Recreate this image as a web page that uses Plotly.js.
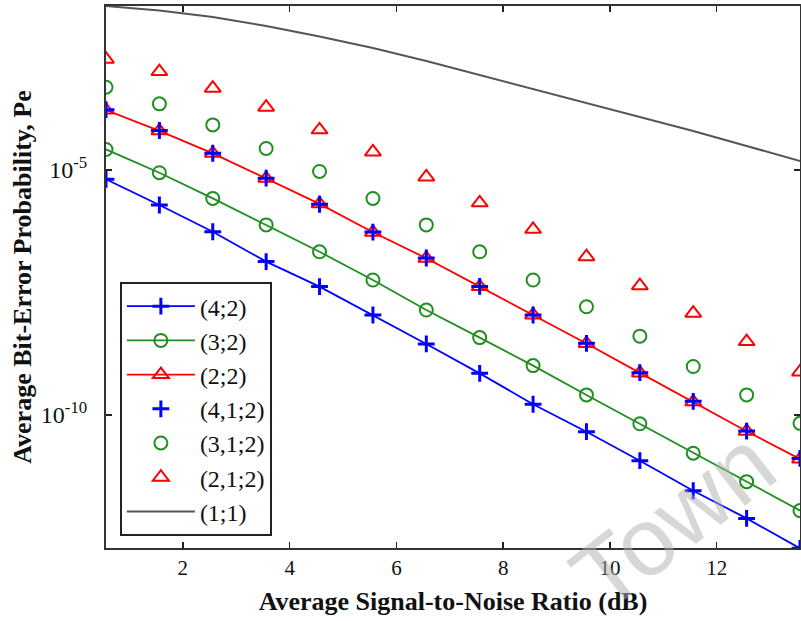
<!DOCTYPE html>
<html>
<head>
<meta charset="utf-8">
<script src="https://cdn.plot.ly/plotly-3.0.1.min.js"></script>
<style>html,body{margin:0;padding:0;background:#fff;}#chart{width:801px;height:621px;}</style>
</head>
<body>
<div id="chart"></div>
<script>
// SNR values (dB)
const snr = [0.56, 1.56, 2.56, 3.56, 4.56, 5.56, 6.56, 7.56, 8.56, 9.56, 10.56, 11.56, 12.56, 13.56];

// Average bit-error probability per configuration
const pe_4_2 = [6.46e-6, 1.93e-6, 5.5e-7, 1.35e-7, 4.17e-8, 1.10e-8, 2.82e-9, 7.08e-10, 1.66e-10, 4.57e-11, 1.17e-11, 2.85e-12, 7.76e-13, 1.9e-13];
const pe_3_2 = [2.63e-5, 8.81e-6, 2.63e-6, 7.59e-7, 2.14e-7, 5.69e-8, 1.39e-8, 3.8e-9, 1.02e-9, 2.57e-10, 6.61e-11, 1.66e-11, 4.37e-12, 1.12e-12];
const pe_2_2 = [1.67e-4, 6.31e-5, 2.19e-5, 6.76e-6, 2.04e-6, 5.37e-7, 1.58e-7, 4.17e-8, 1.1e-8, 2.88e-9, 7.24e-10, 1.86e-10, 4.68e-11, 1.26e-11];
const pe_4_1_2 = [1.7e-4, 6.4e-5, 2.2e-5, 6.8e-6, 2.0e-6, 5.4e-7, 1.6e-7, 4.2e-8, 1.1e-8, 2.9e-9, 7.3e-10, 1.9e-10, 4.7e-11, 1.3e-11];
const pe_3_1_2 = [4.9e-4, 2.24e-4, 8.32e-5, 2.75e-5, 9.33e-6, 2.63e-6, 7.59e-7, 2.14e-7, 5.69e-8, 1.62e-8, 4.07e-9, 9.77e-10, 2.57e-10, 6.76e-11];
const pe_2_1_2 = [1.82e-3, 1.02e-3, 4.68e-4, 1.91e-4, 6.61e-5, 2.34e-5, 7.24e-6, 2.14e-6, 6.17e-7, 1.7e-7, 4.37e-8, 1.2e-8, 3.16e-9, 7.59e-10];
const pe_1_1 = [2.22e-2, 1.8e-2, 1.32e-2, 8.69e-3, 5.3e-3, 3.09e-3, 1.67e-3, 8.69e-4, 4.5e-4, 2.33e-4, 1.21e-4, 6.25e-5, 3.09e-5, 1.53e-5];

const seriesNames = ['(4;2)', '(3;2)', '(2;2)', '(4,1;2)', '(3,1;2)', '(2,1;2)', '(1;1)'];

const xTickVals = [2, 4, 6, 8, 10, 12];
const yTickVals = [1e-5, 1e-10];
const yTickText = ['10<sup>-5</sup>', '10<sup>-10</sup>'];

const BLUE = '#0000ff', GREEN = '#1f8f1f', RED = '#ff0000', GRAY = '#555555';

function tr(name, y, mode, color, symbol, size, group, lw) {
  const t = {
    x: snr, y: y, name: name, mode: mode, type: 'scatter',
    legendgroup: group,
    marker: {symbol: symbol, size: size, color: color, line: {color: color, width: lw}}
  };
  if (mode.indexOf('lines') >= 0) t.line = {color: color, width: 1.8};
  return t;
}

const data = [
  tr(seriesNames[0], pe_4_2, 'lines+markers', BLUE, 'cross-thin', 12, 'a', 3),
  tr(seriesNames[1], pe_3_2, 'lines+markers', GREEN, 'circle-open', 13, 'b', 2),
  tr(seriesNames[2], pe_2_2, 'lines+markers', RED, 'triangle-up-open', 14, 'c', 2),
  tr(seriesNames[3], pe_4_1_2, 'markers', BLUE, 'cross-thin', 12, 'd', 3),
  tr(seriesNames[4], pe_3_1_2, 'markers', GREEN, 'circle-open', 13, 'e', 2),
  tr(seriesNames[5], pe_2_1_2, 'markers', RED, 'triangle-up-open', 14, 'f', 2),
  {x: snr, y: pe_1_1, name: seriesNames[6], mode: 'lines', type: 'scatter', legendgroup: 'g',
   line: {color: GRAY, width: 2}}
];

const serif = 'Liberation Serif, Times New Roman, serif';

const layout = {
  width: 801, height: 621,
  margin: {l: 106, r: 1, t: 6, b: 73},
  paper_bgcolor: '#ffffff', plot_bgcolor: '#ffffff',
  showlegend: true,
  font: {family: serif, color: '#111', size: 20},
  xaxis: {
    range: [0.56, 13.56],
    tickvals: xTickVals,
    ticks: 'inside', ticklen: 6, tickwidth: 1.5, tickcolor: '#222',
    showline: true, linecolor: '#333', linewidth: 2, mirror: 'ticks',
    showgrid: false, zeroline: false,
    tickfont: {family: serif, size: 21, color: '#111'},
    title: {text: '<b>Average Signal-to-Noise Ratio (dB)</b>', font: {family: serif, size: 26, color: '#111'}, standoff: 13}
  },
  yaxis: {
    type: 'log',
    range: [-12.714, -1.653],
    tickvals: yTickVals, ticktext: yTickText,
    ticks: 'inside', ticklen: 6, tickwidth: 1.5, tickcolor: '#222',
    ticklabelstandoff: 12,
    showline: true, linecolor: '#333', linewidth: 2, mirror: 'ticks',
    showgrid: false, zeroline: false,
    tickfont: {family: serif, size: 24, color: '#111'},
    title: {text: '<b>Average Bit-Error Probability, Pe</b>', font: {family: serif, size: 26, color: '#111'}, standoff: 2}
  },
  legend: {
    x: 0.02, y: 0.022, xanchor: 'left', yanchor: 'bottom',
    bgcolor: '#ffffff', bordercolor: '#222', borderwidth: 2,
    font: {family: serif, size: 24, color: '#111'},
    tracegroupgap: 0,
    itemwidth: 68
  },
  annotations: [{
    text: 'Town', xref: 'paper', yref: 'paper', x: 0.817, y: 0.052,
    xanchor: 'center', yanchor: 'middle',
    showarrow: false, textangle: -38,
    font: {family: 'Liberation Sans, Arial, sans-serif', size: 96, color: 'rgba(175,175,175,0.5)'}
  }]
};

Plotly.newPlot('chart', data, layout, {displayModeBar: false, staticPlot: true});
</script>
</body>
</html>
